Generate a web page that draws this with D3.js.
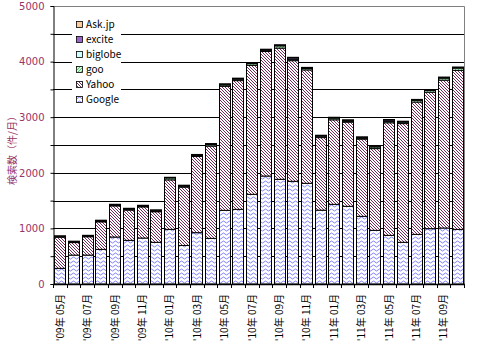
<!DOCTYPE html>
<html><head><meta charset="utf-8">
<script src="https://cdn.jsdelivr.net/npm/d3@7"></script>
<style>body{margin:0;background:#fff;}svg{display:block;font-family:"Noto Sans CJK JP","DejaVu Sans",sans-serif;}</style>
</head><body><svg id="c" width="477" height="344"></svg>
<script>
const months = ["'09年 05月","'09年 06月","'09年 07月","'09年 08月","'09年 09月","'09年 10月","'09年 11月","'09年 12月",
"'10年 01月","'10年 02月","'10年 03月","'10年 04月","'10年 05月","'10年 06月","'10年 07月","'10年 08月","'10年 09月","'10年 10月","'10年 11月","'10年 12月",
"'11年 01月","'11年 02月","'11年 03月","'11年 04月","'11年 05月","'11年 06月","'11年 07月","'11年 08月","'11年 09月","'11年 10月"];
const google  = [282,520,520,623,845,785,827,750,983,693,923,821,1325,1343,1613,1942,1883,1847,1811,1328,1433,1397,1217,965,875,750,893,995,1007,983];
const yahoo   = [560,225,330,495,560,545,560,550,890,1050,1370,1660,2230,2315,2320,2240,2360,2170,2040,1305,1520,1515,1390,1470,2025,2135,2380,2455,2660,2860];
const goo     = [10,12,12,15,15,15,15,15,35,15,20,25,25,25,30,20,40,25,25,25,30,20,20,30,25,25,30,30,35,40];
const biglobe = [6,6,6,6,6,8,6,8,6,10,10,10,10,10,10,12,10,8,10,10,8,10,10,10,10,10,10,10,10,10];
const excite  = [4,4,5,5,5,6,5,6,3,6,6,6,6,6,6,6,5,25,8,5,5,6,5,5,22,5,5,5,5,5];
const askjp   = [1,1,2,2,2,2,2,2,1,1,1,2,1,1,1,1,1,1,2,1,2,2,1,2,1,1,2,3,3,2];
const seriesNames = ["Google","Yahoo","goo","biglobe","excite","Ask.jp"];
const yTicks = [0,1000,2000,3000,4000,5000];

const svg = d3.select("#c");
const M = {l:53, r:464, t:6, b:284};
const defs = svg.append("defs");
const pg = defs.append("pattern").attr("id","pGoogle").attr("patternUnits","userSpaceOnUse").attr("width",6).attr("height",4);
pg.append("rect").attr("width",6).attr("height",4).attr("fill","#fff");
pg.append("path").attr("d","M0,2 Q1.5,0 3,2 T6,2").attr("fill","none").attr("stroke","#8080ff").attr("stroke-width",1);
const py = defs.append("pattern").attr("id","pYahoo").attr("patternUnits","userSpaceOnUse").attr("width",3).attr("height",3);
py.append("rect").attr("width",3).attr("height",3).attr("fill","#fff");
py.append("path").attr("d","M-1,-1 L4,4 M-1,2 L1,4 M2,-1 L4,1").attr("stroke","#7a2a5a").attr("stroke-width",1);
const pgo = defs.append("pattern").attr("id","pGoo").attr("patternUnits","userSpaceOnUse").attr("width",3).attr("height",3);
pgo.append("rect").attr("width",3).attr("height",3).attr("fill","#ccffcc");
pgo.append("path").attr("d","M0,3 L3,0").attr("stroke","#339966").attr("stroke-width",0.7);
const fills = {"Google":"url(#pGoogle)","Yahoo":"url(#pYahoo)","goo":"url(#pGoo)","biglobe":"#ccffff","excite":"#9966cc","Ask.jp":"#ffcc99"};

const x = d3.scaleBand().domain(months).range([M.l,M.r]).paddingInner(0.2).paddingOuter(0.1);
const y = d3.scaleLinear().domain([0,5000]).range([M.b,M.t]);

svg.append("path").attr("d",`M${M.l},${M.t+0.5}H${M.r+0.5}V${M.b}`).attr("fill","none").attr("stroke","#808080");
const grid = d3.range(500,5000,500);
svg.append("g").selectAll("line").data(grid).join("line")
  .attr("x1",M.l).attr("x2",M.r).attr("y1",d=>Math.round(y(d))+0.5).attr("y2",d=>Math.round(y(d))+0.5)
  .attr("stroke","#000").attr("stroke-width",1);

const rows = months.map((m,i)=>({m, "Google":google[i],"Yahoo":yahoo[i],"goo":goo[i],"biglobe":biglobe[i],"excite":excite[i],"Ask.jp":askjp[i]}));
const stack = d3.stack().keys(seriesNames)(rows);
const gBars = svg.append("g");
stack.forEach(s=>{
  gBars.append("g").selectAll("rect").data(s).join("rect")
    .attr("x",d=>Math.round(x(d.data.m))+0.5)
    .attr("width",Math.round(x.bandwidth()))
    .attr("y",d=>y(d[1]))
    .attr("height",d=>Math.max(0,y(d[0])-y(d[1])))
    .attr("fill",fills[s.key]).attr("stroke","#000").attr("stroke-width",1);
});

const lg = svg.append("g");
lg.append("rect").attr("x",72).attr("y",14).attr("width",49).attr("height",94).attr("fill","#fff");
const legOrder = ["Ask.jp","excite","biglobe","goo","Yahoo","Google"];
legOrder.forEach((k,i)=>{
  const yy = 21+i*15;
  lg.append("rect").attr("x",76.5).attr("y",yy+0.5).attr("width",6).attr("height",6).attr("fill",fills[k]).attr("stroke","#000").attr("stroke-width",0.8);
  lg.append("text").attr("x",86).attr("y",yy+7).attr("font-size",10).attr("fill","#000").text(k);
});

const ya = d3.axisLeft(y).tickValues(d3.range(0,5001,500)).tickSize(3).tickFormat(d=>yTicks.includes(d)?d:"");
const yg = svg.append("g").attr("transform",`translate(${M.l+0.5},0)`).call(ya);
yg.select(".domain").attr("stroke","#000");
yg.selectAll(".tick line").attr("stroke","#000");
yg.selectAll("text").attr("fill","#993366").attr("font-size",10).attr("x",-9).attr("font-family","DejaVu Sans, sans-serif");

svg.append("line").attr("x1",M.l).attr("x2",M.r+1).attr("y1",M.b+0.5).attr("y2",M.b+0.5).attr("stroke","#000").attr("stroke-width",1.5);
const step = x.step();
svg.append("g").selectAll("line").data(d3.range(months.length+1)).join("line")
  .attr("x1",i=>Math.round(M.l+i*step)+0.5).attr("x2",i=>Math.round(M.l+i*step)+0.5)
  .attr("y1",M.b).attr("y2",M.b+4).attr("stroke","#000");
svg.append("g").selectAll("text").data(months.filter((m,i)=>i%2===0)).join("text")
  .attr("transform",d=>`translate(${x(d)+x.bandwidth()/2+4},${294}) rotate(-90)`)
  .attr("text-anchor","end").attr("font-size",10).attr("fill","#000").text(d=>d);

svg.append("text").attr("transform","translate(16,148) rotate(-90)").attr("text-anchor","middle")
  .attr("font-size",10).attr("fill","#993366").text("検索数（件/月）");
</script></body></html>
